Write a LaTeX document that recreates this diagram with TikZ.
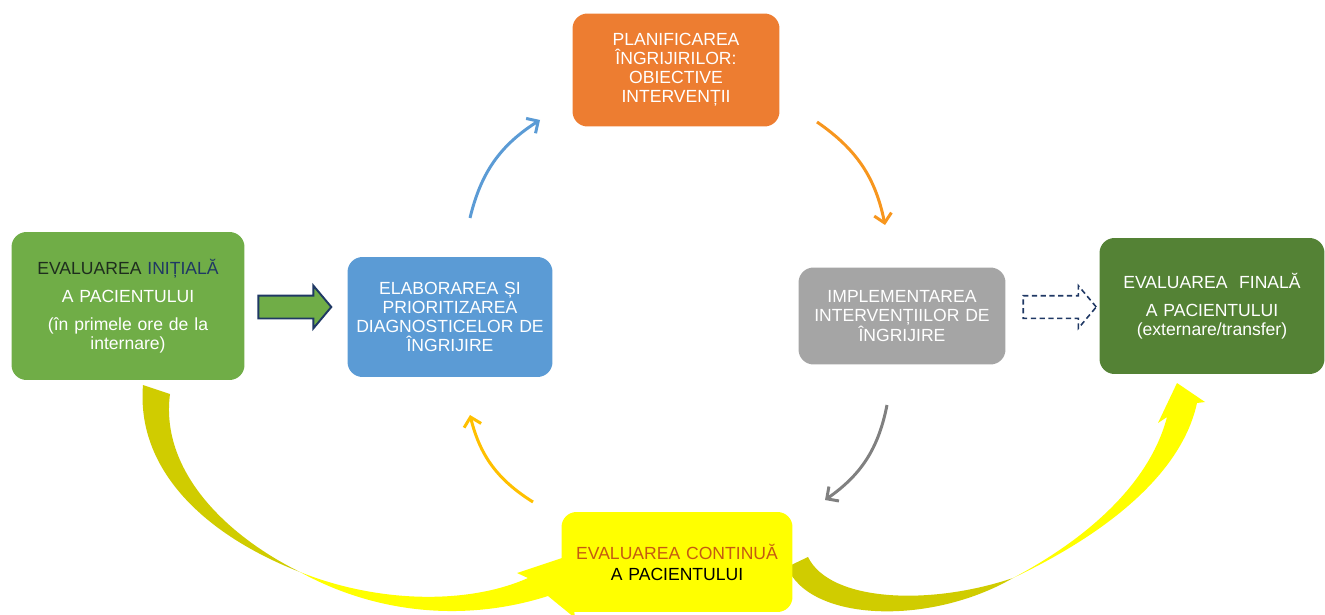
\documentclass[tikz,border=0pt]{standalone}
\usepackage{fontspec}
\setmainfont{Liberation Sans}
\usetikzlibrary{arrows.meta,shapes.arrows,backgrounds}
\definecolor{initgreen}{RGB}{112,173,71}
\definecolor{elabblue}{RGB}{91,155,213}
\definecolor{planorange}{RGB}{237,125,49}
\definecolor{implgray}{RGB}{165,165,165}
\definecolor{finalgreen}{RGB}{84,130,53}
\definecolor{contyellow}{RGB}{255,255,0}
\definecolor{ribbonolive}{RGB}{208,204,0}
\definecolor{navyline}{RGB}{31,56,100}
\definecolor{darktxt}{RGB}{30,45,30}
\definecolor{contred}{RGB}{197,90,17}
\definecolor{amberarr}{RGB}{255,192,0}
\definecolor{orangearr}{RGB}{247,150,30}
\definecolor{grayarr}{RGB}{128,128,128}

\begin{document}
\begin{tikzpicture}[x=0.02cm,y=-0.02cm,
  box/.style={rounded corners=0.3cm,align=center,text=white,inner sep=3pt,
              font=\fontsize{10}{10.8}\selectfont},
  arr/.style={-{Straight Barb[length=5pt,width=10pt]},line width=1.7pt,bend left=22},
  blockarr/.style={single arrow,inner sep=0.21cm,minimum height=1.46cm,
                   single arrow head extend=0.2cm,single arrow tip angle=100}]
  \useasboundingbox (0,0) rectangle (1325,615);

  % the six steps
  \node[box,fill=initgreen,minimum width=4.66cm,minimum height=2.96cm,text width=4.2cm] (init) at (128,306)
    {{\color{darktxt}EVALUAREA\ }{\color{navyline}INIȚIALĂ}\\[5pt]
     A PACIENTULUI\\[5pt]
     (în primele ore de la\\internare)};
  \node[box,fill=elabblue,minimum width=4.1cm,minimum height=2.4cm,text width=3.8cm] (elab) at (450,317)
    {ELABORAREA ȘI\\PRIORITIZAREA\\DIAGNOSTICELOR DE\\ÎNGRIJIRE};
  \node[box,fill=planorange,minimum width=4.14cm,minimum height=2.26cm,text width=3.8cm] (plan) at (676,70)
    {PLANIFICAREA\\ÎNGRIJIRILOR:\\OBIECTIVE\\INTERVENȚII};
  \node[box,fill=implgray,minimum width=4.14cm,minimum height=1.94cm,text width=3.9cm] (impl) at (902,316)
    {IMPLEMENTAREA\\INTERVENȚIILOR DE\\ÎNGRIJIRE};
  \node[box,fill=finalgreen,minimum width=4.5cm,minimum height=2.72cm,text width=4.2cm] (final) at (1212,306)
    {EVALUAREA\ \ FINALĂ\\[5pt]
     A PACIENTULUI\\(externare/transfer)};
  \node[box,fill=contyellow,minimum width=4.62cm,minimum height=2cm,text width=4.3cm,
        font=\fontsize{10}{12}\selectfont] (cont) at (677,562)
    {{\color{contred}EVALUAREA CONTINUĂ}\\{\color{black}A PACIENTULUI}};

  % block arrows
  \node[blockarr,fill=initgreen,draw=navyline,line width=1.1pt] (ga) at (290,307) {};
  \node[blockarr,fill=white,draw=navyline,line width=0.9pt,dash pattern=on 3pt off 2pt] (gb) at (1055,307) {};

  % cycle arrows
  \coordinate (b1) at (470,218);  \coordinate (b2) at (540,120);
  \coordinate (o1) at (817,122);  \coordinate (o2) at (885,225);
  \coordinate (g1) at (887,405);  \coordinate (g2) at (825,500);
  \coordinate (a1) at (533,502);  \coordinate (a2) at (470,415);
  \draw[arr,elabblue] (b1) to (b2);
  \draw[arr,orangearr] (o1) to (o2);
  \draw[arr,grayarr] (g1) to (g2);
  \draw[arr,amberarr] (a1) to (a2);

  % yellow ribbons
  \begin{scope}[on background layer]
    \fill[ribbonolive] (143,385) .. controls (136,470) and (205,535) .. (300,572)
      .. controls (225,535) and (160,470) .. (170,394) -- cycle;
    \fill[contyellow] (300,572) .. controls (380,616) and (470,621) .. (548,596)
      -- (575,618) -- (568,556) -- (517,573) -- (528,578)
      .. controls (470,604) and (380,604) .. (300,572) -- cycle;
    \fill[ribbonolive] (787,567) .. controls (810,622) and (930,626) .. (1013,578)
      .. controls (930,606) and (830,602) .. (808,557) -- cycle;
    \fill[contyellow] (1013,578) .. controls (1110,532) and (1182,472) .. (1197,403)
      -- (1205,402) -- (1177,383) -- (1158,423) -- (1167,417)
      .. controls (1150,482) and (1090,537) .. (1013,578) -- cycle;
  \end{scope}
\end{tikzpicture}
\end{document}
